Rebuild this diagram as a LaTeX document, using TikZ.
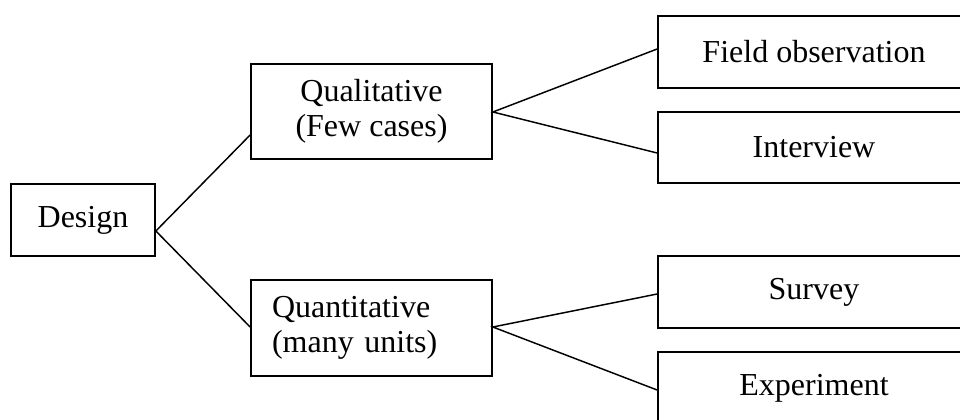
\documentclass[tikz,border=0pt]{standalone}
\usepackage{fontspec}
\setmainfont{Liberation Serif}
\begin{document}
\begin{tikzpicture}[x=0.75pt,y=-0.75pt,
  box/.style={draw, line width=1.3pt, inner sep=0pt, align=center,
    font=\fontsize{24pt}{26.5pt}\selectfont},
  conn/.style={line width=1.1pt}]
\useasboundingbox (0,0) rectangle (960,419);
\fill[white] (0,0) rectangle (960,419);
\clip (0,0) rectangle (960,419);
% left column
\node[box, minimum width=108pt, minimum height=54pt] (design) at (83,220) {Design};
% middle column
\node[box, minimum width=180.75pt, minimum height=71.25pt] (qual) at (371.5,111.5) {Qualitative\\(Few cases)};
\node[box, minimum width=180.75pt, minimum height=72pt, inner xsep=15.75pt,
  text width=149.25pt, align=left] (quant) at (371.5,328) {Quantitative\\(many units)};
% right column
\node[box, minimum width=234pt, minimum height=54pt] (field) at (814,52) {Field observation};
\node[box, minimum width=234pt, minimum height=53.25pt] (interview) at (814,147.5) {Interview};
\node[box, minimum width=234pt, minimum height=54pt] (survey) at (814,292) {Survey};
\node[box, minimum width=234pt, minimum height=54pt] (experiment) at (814,388) {Experiment};
% connectors
\coordinate (dj) at (design.east |- 0,231);
\coordinate (qj) at (qual.east |- 0,112);
\coordinate (nj) at (quant.east |- 0,327);
\draw[conn] (qual.west |- 0,135) -- (dj) -- (quant.west |- 0,327);
\draw[conn] (field.west |- 0,49) -- (qj) -- (interview.west |- 0,153);
\draw[conn] (survey.west |- 0,294) -- (nj) -- (experiment.west |- 0,390);
\end{tikzpicture}
\end{document}
